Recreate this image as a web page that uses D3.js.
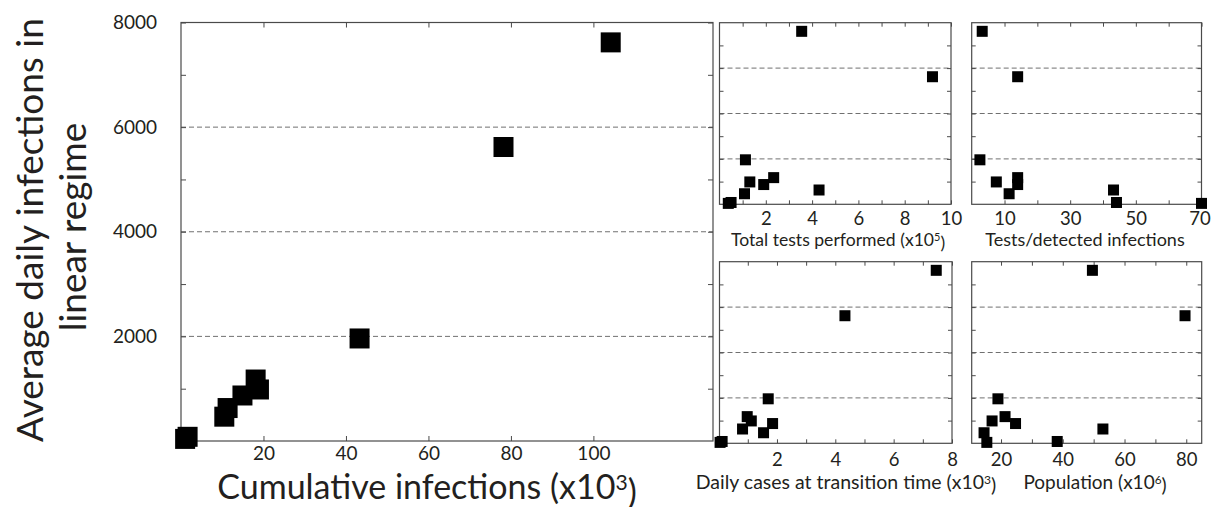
<!DOCTYPE html>
<meta charset="utf-8">
<style>
  body { margin: 0; background: #fff; }
  svg text { font-family: Lato, "Open Sans", sans-serif; fill: #231f20; }
  .frame { fill: none; stroke: #4a4a4a; stroke-width: 1.2; }
  .grid { stroke: #707070; stroke-width: 1; stroke-dasharray: 5,3; }
  .tick line { stroke: #4a4a4a; }
  .domain { display: none; }
</style>
<body>
<script src="https://d3js.org/d3.v7.min.js"></script>
<script>

// same country order in every array
var dailyAvg          = [7620, 5620, 1960, 1175, 985, 870, 630, 465, 80, 40];
var cumulative        = [104.2, 78.2, 43.3, 18.1, 18.9, 14.9, 11.3, 10.5, 1.6, 1.0];   // x10^3
var totalTests        = [3.55, 9.2, 1.12, 2.34, 1.31, 1.91, 4.3, 1.08, 0.5, 0.38];     // x10^5
var testsPerDetected  = [3.2, 14.0, 2.5, 14.0, 7.5, 14.0, 43.2, 11.4, 44.1, 70];
var dailyAtTransition = [7.46, 4.33, 1.70, 0.98, 1.12, 1.85, 0.82, 1.54, 0.12, 0.05]; // x10^3
var population        = [49.6, 79.6, 19.0, 21.3, 17.1, 24.7, 53.0, 14.5, 38.2, 15.4];  // x10^6

var yLabelsMain = [2000, 4000, 6000, 8000];
var gridLines = [2000, 4000, 6000];

var svg = d3.select("body").append("svg")
  .attr("width", 1211)
  .attr("height", 507);

function drawPanel(p) {
  var x = d3.scaleLinear().domain(p.xDomain).range([p.left, p.right]);
  var y = d3.scaleLinear().domain([0, 8000]).range([p.bottom, p.top]);
  var g = svg.append("g");
  var tl = p.tickLen;

  g.selectAll(".grid").data(gridLines).join("line")
    .attr("class", "grid")
    .attr("x1", p.left).attr("x2", p.right)
    .attr("y1", function(d) { return y(d); })
    .attr("y2", function(d) { return y(d); });

  var yTicks = d3.range(1000, 8000, 1000);
  if (p.yLabels) yTicks = yTicks.concat([8000]);

  // bottom ticks + labels
  var bx = g.append("g")
    .attr("transform", "translate(0," + p.bottom + ")")
    .call(d3.axisBottom(x).tickValues(p.xTicks).tickSizeInner(-tl).tickSizeOuter(0)
      .tickPadding(p.pad)
      .tickFormat(function(d) { return p.xLabels.indexOf(d) >= 0 ? d : ""; }));
  bx.selectAll("text").style("font-size", p.labelSize + "px");
  // last label sits on the panel edge, nudge it in like the original
  if (p.lastDx) bx.selectAll("text").filter(function(d) { return d === p.xDomain[1]; }).attr("dx", p.lastDx);

  g.append("g")
    .attr("transform", "translate(0," + p.top + ")")
    .call(d3.axisTop(x).tickValues(p.xTicks).tickSizeInner(-tl).tickSizeOuter(0).tickFormat(""));

  g.append("g")
    .attr("transform", "translate(" + p.left + ",0)")
    .call(d3.axisLeft(y).tickValues(yTicks).tickSizeInner(-tl).tickSizeOuter(0)
      .tickPadding(24)
      .tickFormat(function(d) { return p.yLabels && p.yLabels.indexOf(d) >= 0 ? d : ""; }))
    .selectAll("text").style("font-size", p.labelSize + "px");

  g.append("g")
    .attr("transform", "translate(" + p.right + ",0)")
    .call(d3.axisRight(y).tickValues(yTicks).tickSizeInner(-tl).tickSizeOuter(0).tickFormat(""));

  g.append("rect")
    .attr("class", "frame")
    .attr("x", p.left).attr("y", p.top)
    .attr("width", p.right - p.left)
    .attr("height", p.bottom - p.top);

  var s = p.marker;
  g.selectAll(".pt").data(d3.range(p.xs.length)).join("rect")
    .attr("class", "pt")
    .attr("x", function(i) { return x(p.xs[i]) - s / 2; })
    .attr("y", function(i) { return y(dailyAvg[i]) - s / 2; })
    .attr("width", s).attr("height", s)
    .attr("fill", "#000");

  // axis title, with optional superscript
  var t = g.append("text")
    .attr("x", p.titleX).attr("y", p.titleY)
    .attr("text-anchor", "middle")
    .style("font-size", p.titleSize + "px");
  t.append("tspan").text(p.title);
  if (p.sup) {
    t.append("tspan").attr("dy", "-0.42em").style("font-size", "0.62em").text(p.sup);
    t.append("tspan").attr("dy", "0.42em").text(")");
  }
}

// main panel
drawPanel({
  left: 181, right: 713, top: 22.5, bottom: 441,
  xDomain: [0, 129], xs: cumulative,
  xTicks: [20, 40, 60, 80, 100], xLabels: [20, 40, 60, 80, 100],
  yLabels: yLabelsMain, tickLen: 5, pad: 6, labelSize: 19, marker: 20,
  title: "Cumulative infections (x10", sup: "3",
  titleX: 427, titleY: 499, titleSize: 34
});

drawPanel({
  left: 719.5, right: 951, top: 22.7, bottom: 204.3,
  xDomain: [0, 10], xs: totalTests,
  xTicks: d3.range(1, 11), xLabels: [2, 4, 6, 8, 10],
  tickLen: 4, pad: 8, labelSize: 18.5, marker: 11,
  title: "Total tests performed (x10", sup: "5",
  titleX: 838, titleY: 246, titleSize: 17.6
});

drawPanel({
  left: 971.7, right: 1201.5, top: 22.7, bottom: 204.3,
  xDomain: [0, 70], xs: testsPerDetected,
  xTicks: d3.range(10, 80, 10), xLabels: [10, 30, 50, 70],
  tickLen: 4, pad: 8, labelSize: 18.5, marker: 11, lastDx: -2,
  title: "Tests/detected infections",
  titleX: 1085, titleY: 246, titleSize: 18
});

drawPanel({
  left: 719.5, right: 952, top: 261.7, bottom: 443.3,
  xDomain: [0.03, 8], xs: dailyAtTransition,
  xTicks: d3.range(1, 9), xLabels: [2, 4, 6, 8],
  tickLen: 4, pad: 10, labelSize: 18.5, marker: 11,
  title: "Daily cases at transition time (x10", sup: "3",
  titleX: 846, titleY: 489, titleSize: 19.5
});

drawPanel({
  left: 971.7, right: 1201.7, top: 261.7, bottom: 443.3,
  xDomain: [10.5, 85], xs: population,
  xTicks: d3.range(20, 90, 10), xLabels: [20, 40, 60, 80],
  tickLen: 4, pad: 10, labelSize: 18.5, marker: 11,
  title: "Population (x10", sup: "6",
  titleX: 1095, titleY: 489, titleSize: 19
});

// y title of the main panel, two lines
var yt = svg.append("g").attr("transform", "translate(43,230) rotate(-90)");
yt.append("text")
  .attr("text-anchor", "middle")
  .style("font-size", "37px")
  .text("Average daily infections in");
var yt2 = svg.append("g").attr("transform", "translate(86,227) rotate(-90)");
yt2.append("text")
  .attr("text-anchor", "middle")
  .style("font-size", "37px")
  .text("linear regime");

</script>
